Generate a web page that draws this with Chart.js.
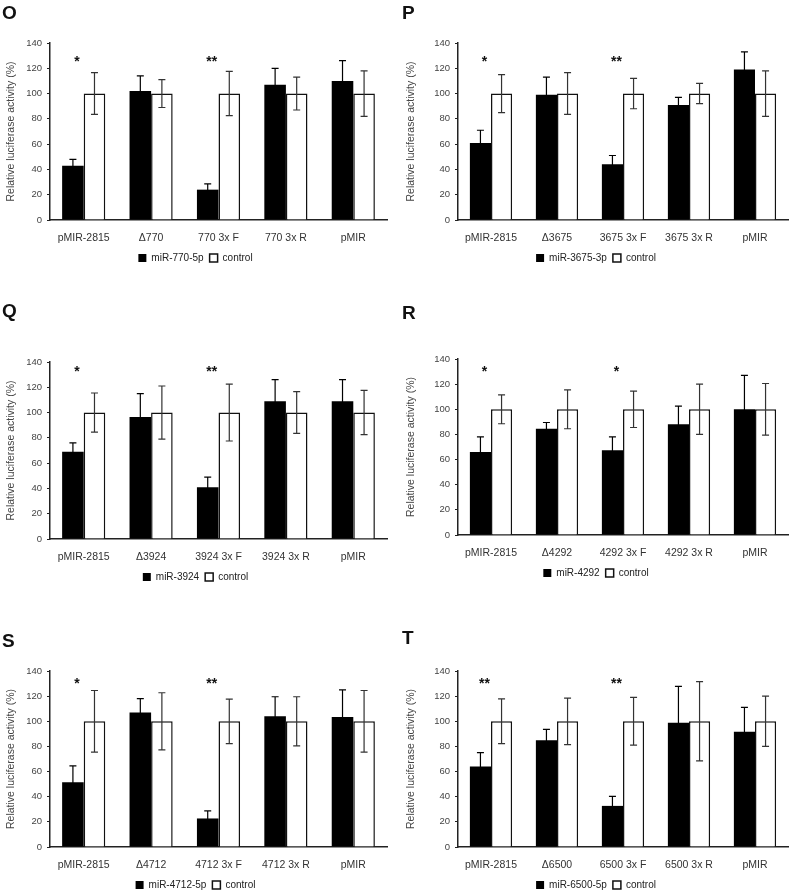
<!DOCTYPE html>
<html>
<head>
<meta charset="utf-8">
<script src="https://cdn.jsdelivr.net/npm/chart.js@4.4.1/dist/chart.umd.min.js"></script>
<style>
  html, body { margin: 0; padding: 0; background: #fff; }
  body { width: 800px; height: 894px; position: relative; overflow: hidden; }
  .panel { position: absolute; }
  .letter { position: absolute; font-family: "Liberation Sans", Arial, sans-serif; font-weight: bold; font-size: 19px; line-height: 1; color: #111; }
</style>
</head>
<body>
<script>
// ---------- DATA ----------
const seriesControlName = "control";
const yTickValues = [0, 20, 40, 60, 80, 100, 120, 140];

const catsO = ["pMIR-2815", "\u0394770", "770 3x F", "770 3x R", "pMIR"];
const miRNameO = "miR-770-5p";
const miRValsO = [43, 102, 24, 107, 110];
const miRErrO  = [5, 12, 4.5, 13, 16];
const ctrlValsO = [100, 100, 100, 100, 100];
const ctrlErrO  = [16.5, 11, 17.5, 13, 18];
const starsO = ["*", "", "**", "", ""];

const catsP = ["pMIR-2815", "\u03943675", "3675 3x F", "3675 3x R", "pMIR"];
const miRNameP = "miR-3675-3p";
const miRValsP = [61, 99, 44, 91, 119];
const miRErrP  = [10, 14, 7, 6, 14];
const ctrlValsP = [100, 100, 100, 100, 100];
const ctrlErrP  = [15, 16.5, 12, 8, 18];
const starsP = ["*", "", "**", "", ""];

const catsQ = ["pMIR-2815", "\u03943924", "3924 3x F", "3924 3x R", "pMIR"];
const miRNameQ = "miR-3924";
const miRValsQ = [69, 96.5, 41, 109, 109];
const miRErrQ  = [7, 18.5, 8, 17, 17];
const ctrlValsQ = [100, 100, 100, 100, 100];
const ctrlErrQ  = [15.5, 21, 22.5, 16.5, 17.5];
const starsQ = ["*", "", "**", "", ""];

const catsR = ["pMIR-2815", "\u03944292", "4292 3x F", "4292 3x R", "pMIR"];
const miRNameR = "miR-4292";
const miRValsR = [66, 84.5, 67.5, 88, 100];
const miRErrR  = [12, 5, 10.5, 14.5, 27];
const ctrlValsR = [100, 100, 100, 100, 100];
const ctrlErrR  = [11.5, 15.5, 14.5, 20, 20.5];
const starsR = ["*", "", "*", "", ""];

const catsS = ["pMIR-2815", "\u03944712", "4712 3x F", "4712 3x R", "pMIR"];
const miRNameS = "miR-4712-5p";
const miRValsS = [51.5, 107, 22.7, 104, 103.5];
const miRErrS  = [13, 11, 6, 15.5, 21.5];
const ctrlValsS = [100, 100, 100, 100, 100];
const ctrlErrS  = [24.5, 22.7, 17.7, 19.5, 24.5];
const starsS = ["*", "", "**", "", ""];

const catsT = ["pMIR-2815", "\u03946500", "6500 3x F", "6500 3x R", "pMIR"];
const miRNameT = "miR-6500-5p";
const miRValsT = [64, 85, 32.7, 98.8, 91.6];
const miRErrT  = [11, 8.5, 7.5, 29, 19.5];
const ctrlValsT = [100, 100, 100, 100, 100];
const ctrlErrT  = [17.8, 18.5, 19, 31.5, 20];
const starsT = ["**", "", "**", "", ""];

const yTitle = "Relative luciferase activity (%)";

// ---------- LAYOUT (positions / sizes only) ----------
const panels = [
  { letter: "O", cats: catsO, name: miRNameO, vals: miRValsO, errs: miRErrO, cvals: ctrlValsO, cerrs: ctrlErrO, stars: starsO, starVal: 127,
    left: 0,   top: 0,   chartLeft: 50, chartTop: 43, chartRight: 387, chartBottom: 220, letterTop: 3 },
  { letter: "P", cats: catsP, name: miRNameP, vals: miRValsP, errs: miRErrP, cvals: ctrlValsP, cerrs: ctrlErrP, stars: starsP, starVal: 127,
    left: 400, top: 0,   chartLeft: 58, chartTop: 43, chartRight: 388, chartBottom: 220, letterTop: 3 },
  { letter: "Q", cats: catsQ, name: miRNameQ, vals: miRValsQ, errs: miRErrQ, cvals: ctrlValsQ, cerrs: ctrlErrQ, stars: starsQ, starVal: 134,
    left: 0,   top: 290, chartLeft: 50, chartTop: 72, chartRight: 387, chartBottom: 249, letterTop: 11 },
  { letter: "R", cats: catsR, name: miRNameR, vals: miRValsR, errs: miRErrR, cvals: ctrlValsR, cerrs: ctrlErrR, stars: starsR, starVal: 132,
    left: 400, top: 290, chartLeft: 58, chartTop: 69, chartRight: 388, chartBottom: 245, letterTop: 13 },
  { letter: "S", cats: catsS, name: miRNameS, vals: miRValsS, errs: miRErrS, cvals: ctrlValsS, cerrs: ctrlErrS, stars: starsS, starVal: 132,
    left: 0,   top: 590, chartLeft: 50, chartTop: 81, chartRight: 387, chartBottom: 257, letterTop: 41 },
  { letter: "T", cats: catsT, name: miRNameT, vals: miRValsT, errs: miRErrT, cvals: ctrlValsT, cerrs: ctrlErrT, stars: starsT, starVal: 132,
    left: 400, top: 590, chartLeft: 58, chartTop: 81, chartRight: 388, chartBottom: 257, letterTop: 38 }
];

const FONT = "'Liberation Sans', Arial, sans-serif";
const X_AXIS_H = 27;
const LEGEND_H = 26;

// error bars plugin
const errorBarPlugin = {
  id: "errorBars",
  afterDatasetsDraw(chart) {
    const ctx = chart.ctx;
    const y = chart.scales.y;
    ctx.save();
    ctx.lineWidth = 1.2;
    chart.data.datasets.forEach((ds, di) => {
      const meta = chart.getDatasetMeta(di);
      if (!ds.errors) return;
      ctx.strokeStyle = ds.errorColor || "#333";
      meta.data.forEach((bar, i) => {
        const v = ds.data[i], e = ds.errors[i];
        const yt = y.getPixelForValue(v + e);
        const yb = y.getPixelForValue(v - e);
        const x = bar.x;
        ctx.beginPath();
        ctx.moveTo(x, yt); ctx.lineTo(x, yb);
        ctx.moveTo(x - 3.5, yt); ctx.lineTo(x + 3.5, yt);
        ctx.moveTo(x - 3.5, yb); ctx.lineTo(x + 3.5, yb);
        ctx.stroke();
      });
    });
    ctx.restore();
  }
};

// significance stars plugin
const starPlugin = {
  id: "stars",
  afterDatasetsDraw(chart, args, opts) {
    const ctx = chart.ctx;
    const meta = chart.getDatasetMeta(0);
    const y = chart.scales.y.getPixelForValue(opts.value);
    ctx.save();
    ctx.fillStyle = "#111";
    ctx.font = "bold 14px " + FONT;
    ctx.textAlign = "center";
    ctx.textBaseline = "middle";
    opts.labels.forEach((s, i) => {
      if (!s) return;
      const x = meta.data[i].x + 4;
      ctx.fillText(s, x, y + 3);
    });
    ctx.restore();
  }
};

panels.forEach((p, idx) => {
  const h = p.chartBottom + X_AXIS_H + LEGEND_H;
  const div = document.createElement("div");
  div.className = "panel";
  div.style.left = p.left + "px";
  div.style.top = p.top + "px";
  div.style.width = "400px";
  div.style.height = h + "px";
  const cv = document.createElement("canvas");
  div.appendChild(cv);
  document.body.appendChild(div);

  const lt = document.createElement("div");
  lt.className = "letter";
  lt.textContent = p.letter;
  lt.style.left = (p.left + 2) + "px";
  lt.style.top = (p.top + p.letterTop) + "px";
  document.body.appendChild(lt);

  const padLeft = 4;
  new Chart(cv, {
    type: "bar",
    data: {
      labels: p.cats,
      datasets: [
        { label: p.name, data: p.vals, errors: p.errs, errorColor: "#000", backgroundColor: "#000", borderColor: "#000", borderWidth: 0,
          categoryPercentage: 0.64, barPercentage: 1.0 },
        { label: seriesControlName, data: p.cvals, errors: p.cerrs, errorColor: "#333", backgroundColor: "#fff", borderColor: "#111", borderWidth: 1.5,
          categoryPercentage: 0.64, barPercentage: 1.0 }
      ]
    },
    options: {
      responsive: true,
      maintainAspectRatio: false,
      animation: false,
      devicePixelRatio: 1,
      layout: { padding: { left: padLeft, top: p.chartTop, right: 400 - p.chartRight, bottom: 0 } },
      plugins: {
        legend: {
          position: "bottom",
          labels: {
            font: { family: FONT, size: 10 },
            color: "#222",
            boxWidth: 8, boxHeight: 8,
            padding: 6
          }
        },
        tooltip: { enabled: false },
        stars: { labels: p.stars, value: p.starVal }
      },
      scales: {
        x: {
          grid: { display: false },
          border: { display: true, color: "#222", width: 1.5 },
          ticks: { font: { family: FONT, size: 10.5 }, color: "#333", padding: 4, maxRotation: 0, autoSkip: false },
          afterFit(s) { s.height = X_AXIS_H; }
        },
        y: {
          min: 0, max: 140,
          afterBuildTicks(s) { s.ticks = yTickValues.map(v => ({ value: v })); },
          grid: { display: true, drawOnChartArea: false, drawTicks: true, tickLength: 3, color: "#222", lineWidth: 1 },
          border: { display: true, color: "#222", width: 1.5 },
          ticks: { font: { family: FONT, size: 9.5 }, color: "#444", padding: 5 },
          title: { display: true, text: yTitle, font: { family: FONT, size: 10.5 }, color: "#444", padding: 1 },
          afterFit(s) { s.width = p.chartLeft - padLeft; }
        }
      }
    },
    plugins: [errorBarPlugin, starPlugin]
  });
});
</script>
</body>
</html>
